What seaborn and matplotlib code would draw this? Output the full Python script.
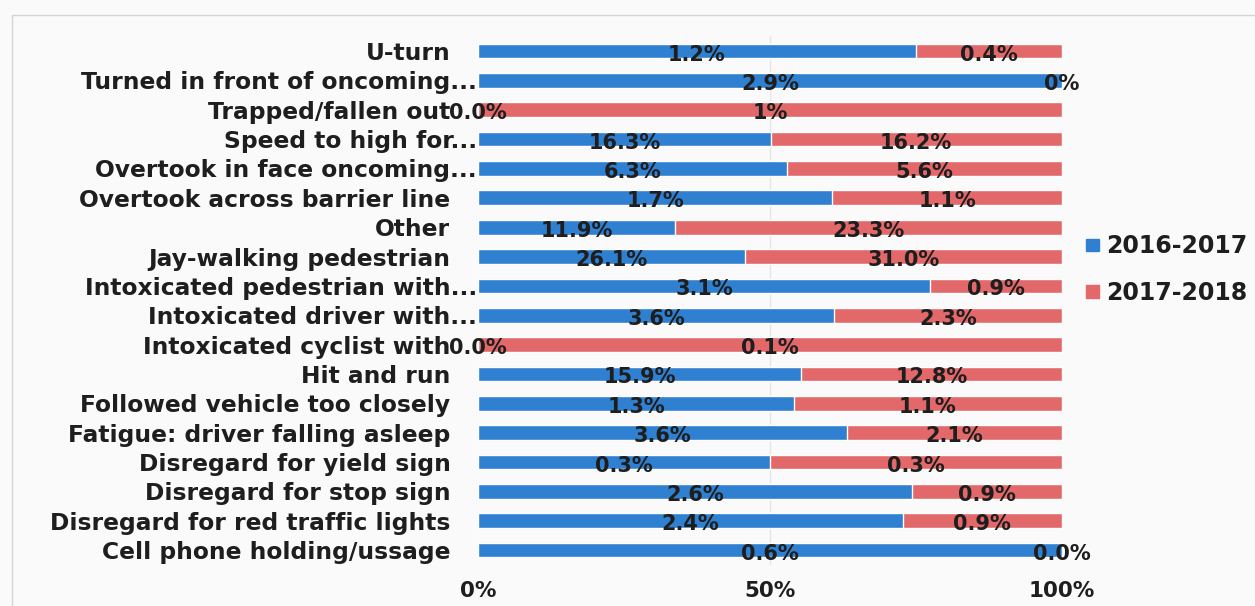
import numpy as np
import pandas as pd
import matplotlib
matplotlib.use("Agg")
import matplotlib.pyplot as plt
import matplotlib.patches as mpatches
import seaborn as sns

# -----------------------------
# Data
# -----------------------------
causes = ["U-turn", "Turned in front of oncoming", "Trapped/fallen out",
          "Speed to high for", "Overtook in face oncoming",
          "Overtook across barrier line", "Other", "Jay-walking pedestrian",
          "Intoxicated pedestrian with", "Intoxicated driver with",
          "Intoxicated cyclist with", "Hit and run", "Followed vehicle too closely",
          "Fatigue: driver falling asleep", "Disregard for yield sign",
          "Disregard for stop sign", "Disregard for red traffic lights",
          "Cell phone holding/ussage"]
truncated = [False, True, False, True, True, False, False, False, True, True,
             False, False, False, False, False, False, False, False]
val_2016 = [1.2, 2.9, 0.0, 16.3, 6.3, 1.7, 11.9, 26.1, 3.1, 3.6, 0.0, 15.9, 1.3, 3.6, 0.3, 2.6, 2.4, 0.6]
val_2017 = [0.4, 0.0, 1.0, 16.2, 5.6, 1.1, 23.3, 31.0, 0.9, 2.3, 0.1, 12.8, 1.1, 2.1, 0.3, 0.9, 0.9, 0.0]
lab_2016 = ["1.2%", "2.9%", "0.0%", "16.3%", "6.3%", "1.7%", "11.9%", "26.1%", "3.1%",
            "3.6%", "0.0%", "15.9%", "1.3%", "3.6%", "0.3%", "2.6%", "2.4%", "0.6%"]
lab_2017 = ["0.4%", "0%", "1%", "16.2%", "5.6%", "1.1%", "23.3%", "31.0%", "0.9%",
            "2.3%", "0.1%", "12.8%", "1.1%", "2.1%", "0.3%", "0.9%", "0.9%", "0.0%"]
series = ["2016-2017", "2017-2018"]

df = pd.DataFrame({"cause": causes, "a": val_2016, "b": val_2017})
df["share_a"] = df["a"] / (df["a"] + df["b"])
df["share_b"] = df["b"] / (df["a"] + df["b"])
df["total"] = df["share_a"] + df["share_b"]

blue = "#2f80d1"
red = "#e2686a"
txt = "#1e1e1e"

sns.set_theme(style="white")
plt.rcParams["font.family"] = ["DejaVu Sans"]

fig = plt.figure(figsize=(12.55, 6.06), dpi=100, facecolor="#fafafa")
ax = fig.add_axes([0.381, 0.068, 0.465, 0.872])
ax.set_facecolor("#fafafa")

# barre rouge = total (100 %), barre bleue = part 2016-2017 par-dessus
sns.barplot(data=df, x="total", y="cause", color=red, width=0.5,
            saturation=1, ax=ax, orient="h")
sns.barplot(data=df, x="share_a", y="cause", color=blue, width=0.5,
            saturation=1, ax=ax, orient="h")

# data labels
for i, row in df.iterrows():
    ax.text(row["share_a"] / 2, i + 0.12, lab_2016[i], ha="center", va="center",
            fontsize=15, fontweight="bold", color=txt)
    ax.text(row["share_a"] + row["share_b"] / 2, i + 0.12, lab_2017[i], ha="center",
            va="center", fontsize=15, fontweight="bold", color=txt)

ax.set_xlim(0, 1)
ax.set_ylim(len(causes) - 0.5, -0.5)
ax.set_xticks([0, 0.5, 1])
ax.set_xticklabels(["0%", "50%", "100%"])
ax.set_yticks(range(len(causes)))
ax.set_yticklabels([c + "..." if t else c for c, t in zip(causes, truncated)])
ax.set_xlabel("")
ax.set_ylabel("")
ax.tick_params(axis="x", length=0, pad=12, labelsize=15.5, labelcolor=txt)
ax.tick_params(axis="y", length=0, labelsize=16.8, labelcolor=txt)
for lbl in ax.get_xticklabels() + ax.get_yticklabels():
    lbl.set_fontweight("bold")
for tick, t in zip(ax.yaxis.get_major_ticks(), truncated):
    tick.set_pad(1 if t else 20)
ax.axvline(0.5, color="#e6e6e6", lw=1, zorder=0)
sns.despine(ax=ax, left=True, bottom=True)

handles = [mpatches.Patch(color=blue, label=series[0]),
           mpatches.Patch(color=red, label=series[1])]
leg = fig.legend(handles=handles, loc="center left", bbox_to_anchor=(0.858, 0.555),
                 frameon=False, handlelength=0.55, handleheight=0.42,
                 handletextpad=0.3, labelspacing=0.95, borderaxespad=0,
                 prop={"size": 17, "weight": "bold"})
for t in leg.get_texts():
    t.set_color(txt)

# outer frame
fig.patches.append(mpatches.Rectangle((12 / 1255, -0.1), 1.1, 1 - 15 / 606 + 0.1,
                                      transform=fig.transFigure, fill=False,
                                      edgecolor="#d4d4d4", lw=1))

fig.savefig("out.png", dpi=100, facecolor=fig.get_facecolor())
